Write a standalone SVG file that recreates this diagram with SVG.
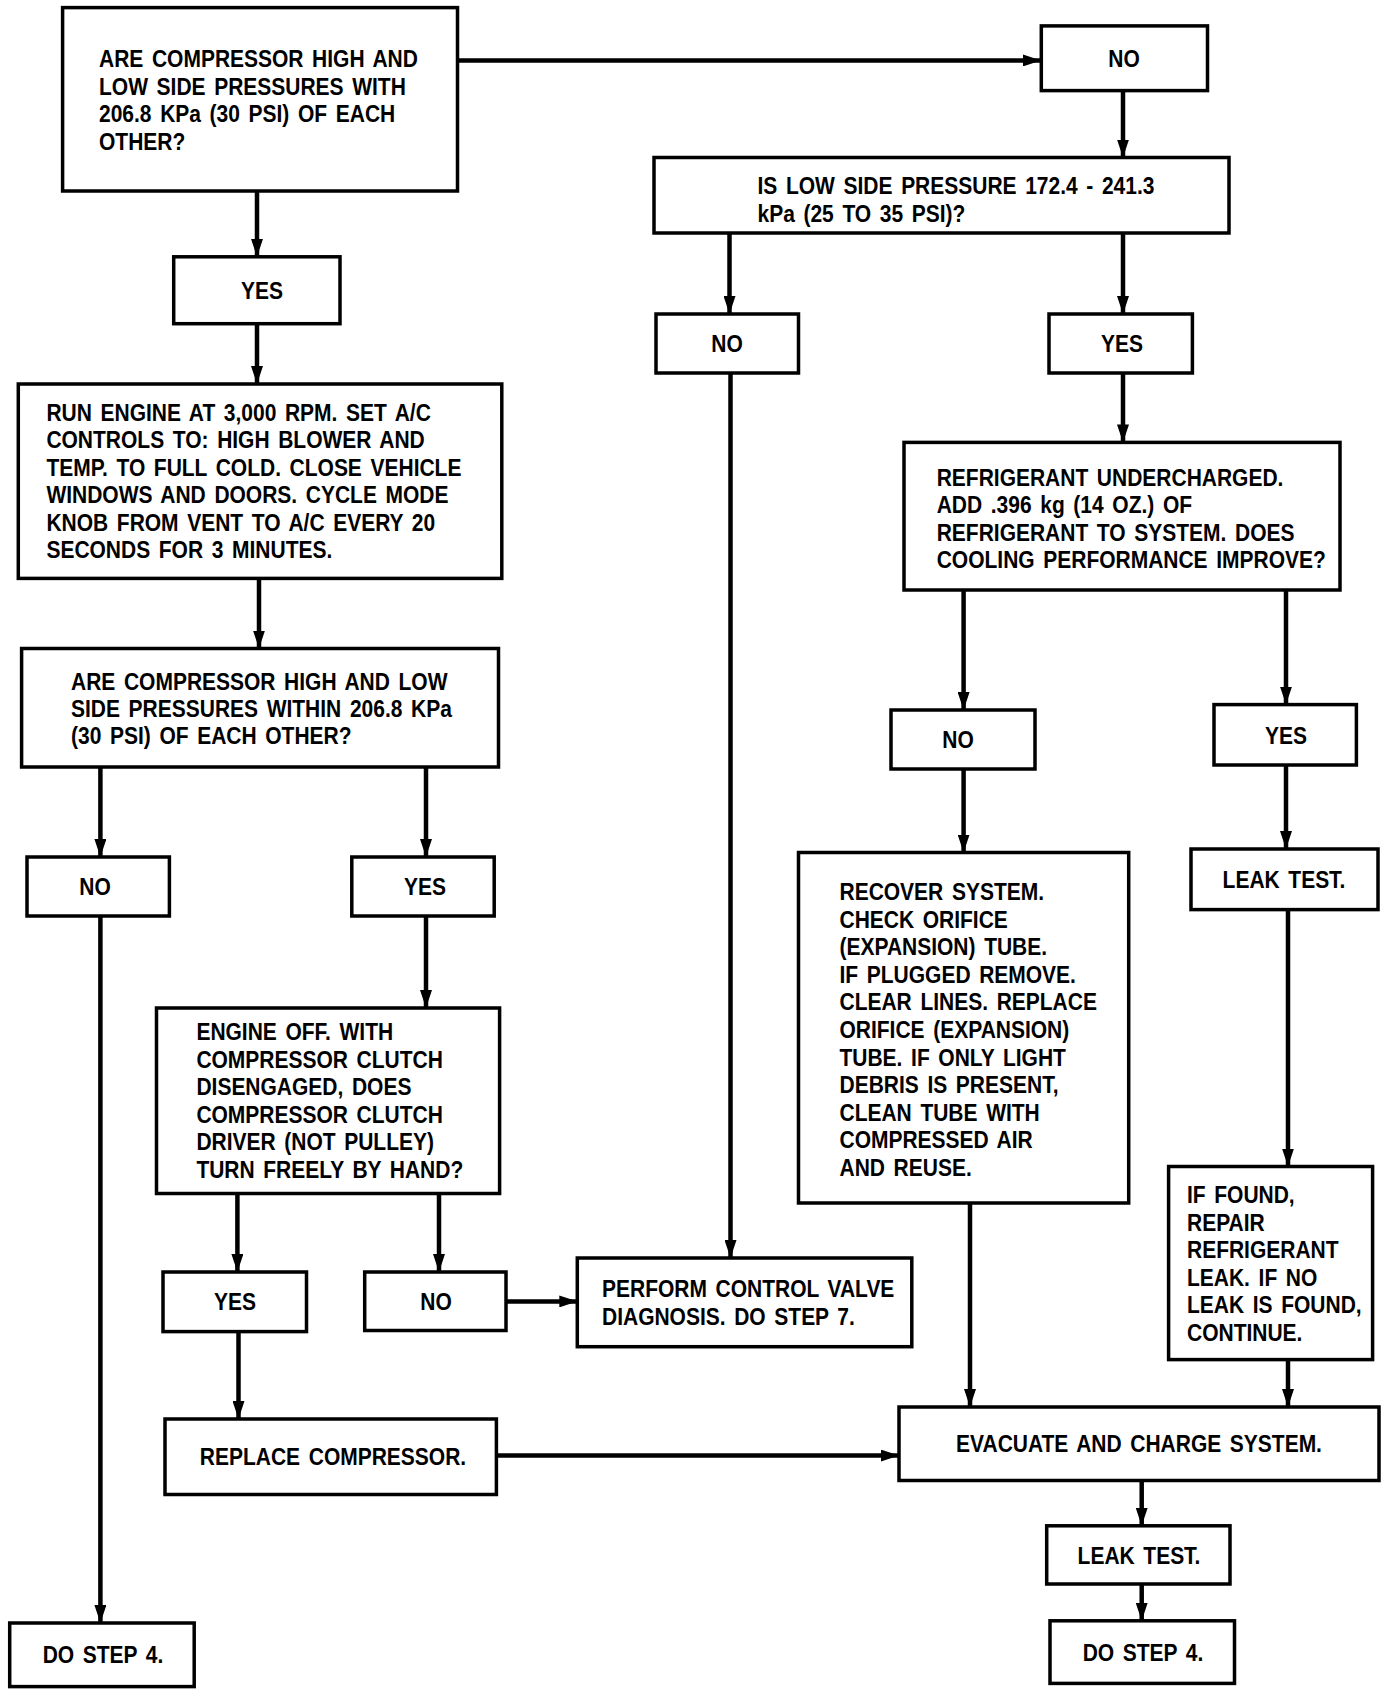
<svg xmlns="http://www.w3.org/2000/svg" width="1392" height="1690" viewBox="0 0 1392 1690">
<style>
.box{fill:#fff;stroke:#000;stroke-width:3.5}
.t{font-family:"Liberation Sans",Arial,sans-serif;font-weight:bold;font-size:24px;fill:#000;word-spacing:3.2px}
.c{text-anchor:middle}
.ln{fill:none;stroke:#000;stroke-width:4.5;marker-end:url(#ah)}
</style>
<defs>
<marker id="ah" viewBox="0 0 18 12" refX="18" refY="6" markerWidth="18" markerHeight="12" markerUnits="userSpaceOnUse" orient="auto">
<path d="M0,0 L18,6 L0,12 z" fill="#000"/>
</marker>
</defs>
<rect width="1392" height="1690" fill="#fff"/>

<g id="connectors">
<line class="ln" x1="457.5" y1="60.4" x2="1041" y2="60.4"/>
<line class="ln" x1="1123" y1="90.6" x2="1123" y2="157.5"/>
<line class="ln" x1="729.5" y1="233" x2="729.5" y2="314"/>
<line class="ln" x1="1123" y1="233" x2="1123" y2="314"/>
<line class="ln" x1="1123" y1="373" x2="1123" y2="442.4"/>
<line class="ln" x1="963.6" y1="590" x2="963.6" y2="710"/>
<line class="ln" x1="1286" y1="590" x2="1286" y2="704.6"/>
<line class="ln" x1="963.6" y1="769" x2="963.6" y2="852.5"/>
<line class="ln" x1="1286" y1="765" x2="1286" y2="849"/>
<line class="ln" x1="1288" y1="909.6" x2="1288" y2="1166.5"/>
<line class="ln" x1="257" y1="191" x2="257" y2="256.8"/>
<line class="ln" x1="257" y1="323.7" x2="257" y2="384"/>
<line class="ln" x1="259" y1="578.4" x2="259" y2="648.5"/>
<line class="ln" x1="100.4" y1="767" x2="100.4" y2="857"/>
<line class="ln" x1="426" y1="767" x2="426" y2="857"/>
<line class="ln" x1="426" y1="916" x2="426" y2="1008"/>
<line class="ln" x1="237.4" y1="1193.5" x2="237.4" y2="1272"/>
<line class="ln" x1="439" y1="1193.5" x2="439" y2="1272"/>
<line class="ln" x1="506" y1="1301.4" x2="577.3" y2="1301.4"/>
<line class="ln" x1="730.5" y1="373" x2="730.5" y2="1258"/>
<line class="ln" x1="238.5" y1="1331.6" x2="238.5" y2="1419"/>
<line class="ln" x1="496.4" y1="1455.6" x2="899" y2="1455.6"/>
<line class="ln" x1="970" y1="1203" x2="970" y2="1407"/>
<line class="ln" x1="1288" y1="1359.6" x2="1288" y2="1407"/>
<line class="ln" x1="1141.7" y1="1480.5" x2="1141.7" y2="1525.8"/>
<line class="ln" x1="1141.7" y1="1584" x2="1141.7" y2="1620.8"/>
<line class="ln" x1="100.4" y1="916" x2="100.4" y2="1623"/>
</g>

<g id="q1">
<rect class="box" x="62.6" y="7.6" width="394.9" height="183.4"/>
<text class="t" transform="translate(99,67) scale(0.875,1)"><tspan x="0">ARE COMPRESSOR HIGH AND</tspan><tspan x="0" dy="27.6">LOW SIDE PRESSURES WITH</tspan><tspan x="0" dy="27.6">206.8 KPa (30 PSI) OF EACH</tspan><tspan x="0" dy="27.6">OTHER?</tspan></text>
</g>

<g id="no1">
<rect class="box" x="1041.3" y="25.9" width="166.2" height="64.7"/>
<text class="t c" transform="translate(1124,67) scale(0.875,1)">NO</text>
</g>

<g id="q2">
<rect class="box" x="654" y="157.5" width="575" height="75.5"/>
<text class="t" transform="translate(757.5,194) scale(0.875,1)"><tspan x="0">IS LOW SIDE PRESSURE 172.4 - 241.3</tspan><tspan x="0" dy="28">kPa (25 TO 35 PSI)?</tspan></text>
</g>

<g id="no2">
<rect class="box" x="656" y="314" width="142.5" height="59"/>
<text class="t c" transform="translate(727,352) scale(0.875,1)">NO</text>
</g>

<g id="yes2">
<rect class="box" x="1049" y="314" width="143.4" height="59"/>
<text class="t c" transform="translate(1122,352) scale(0.875,1)">YES</text>
</g>

<g id="q3">
<rect class="box" x="904" y="442.4" width="436" height="147.6"/>
<text class="t" transform="translate(936.7,485.6) scale(0.875,1)"><tspan x="0">REFRIGERANT UNDERCHARGED.</tspan><tspan x="0" dy="27.6">ADD .396 kg (14 OZ.) OF</tspan><tspan x="0" dy="27.6">REFRIGERANT TO SYSTEM. DOES</tspan><tspan x="0" dy="27.6">COOLING PERFORMANCE IMPROVE?</tspan></text>
</g>

<g id="no3">
<rect class="box" x="891" y="710" width="144" height="59"/>
<text class="t c" transform="translate(958,748) scale(0.875,1)">NO</text>
</g>

<g id="yes3">
<rect class="box" x="1214" y="704.6" width="142.4" height="60.4"/>
<text class="t c" transform="translate(1286,744) scale(0.875,1)">YES</text>
</g>

<g id="recover">
<rect class="box" x="798.5" y="852.5" width="330.2" height="350.5"/>
<text class="t" transform="translate(839.5,900) scale(0.875,1)"><tspan x="0">RECOVER SYSTEM.</tspan><tspan x="0" dy="27.6">CHECK ORIFICE</tspan><tspan x="0" dy="27.6">(EXPANSION) TUBE.</tspan><tspan x="0" dy="27.6">IF PLUGGED REMOVE.</tspan><tspan x="0" dy="27.6">CLEAR LINES. REPLACE</tspan><tspan x="0" dy="27.6">ORIFICE (EXPANSION)</tspan><tspan x="0" dy="27.6">TUBE. IF ONLY LIGHT</tspan><tspan x="0" dy="27.6">DEBRIS IS PRESENT,</tspan><tspan x="0" dy="27.6">CLEAN TUBE WITH</tspan><tspan x="0" dy="27.6">COMPRESSED AIR</tspan><tspan x="0" dy="27.6">AND REUSE.</tspan></text>
</g>

<g id="leak1">
<rect class="box" x="1191" y="849" width="187" height="60.6"/>
<text class="t c" transform="translate(1284,888) scale(0.875,1)">LEAK TEST.</text>
</g>

<g id="iffound">
<rect class="box" x="1168.6" y="1166.5" width="204" height="193.1"/>
<text class="t" transform="translate(1187,1203) scale(0.875,1)"><tspan x="0">IF FOUND,</tspan><tspan x="0" dy="27.6">REPAIR</tspan><tspan x="0" dy="27.6">REFRIGERANT</tspan><tspan x="0" dy="27.6">LEAK. IF NO</tspan><tspan x="0" dy="27.6">LEAK IS FOUND,</tspan><tspan x="0" dy="27.6">CONTINUE.</tspan></text>
</g>

<g id="yes1">
<rect class="box" x="173.7" y="256.8" width="166.3" height="66.9"/>
<text class="t c" transform="translate(262,299) scale(0.875,1)">YES</text>
</g>

<g id="run">
<rect class="box" x="18.3" y="384" width="483.5" height="194.4"/>
<text class="t" transform="translate(46.4,421) scale(0.875,1)"><tspan x="0">RUN ENGINE AT 3,000 RPM. SET A/C</tspan><tspan x="0" dy="27.4">CONTROLS TO: HIGH BLOWER AND</tspan><tspan x="0" dy="27.4">TEMP. TO FULL COLD. CLOSE VEHICLE</tspan><tspan x="0" dy="27.4">WINDOWS AND DOORS. CYCLE MODE</tspan><tspan x="0" dy="27.4">KNOB FROM VENT TO A/C EVERY 20</tspan><tspan x="0" dy="27.4">SECONDS FOR 3 MINUTES.</tspan></text>
</g>

<g id="q4">
<rect class="box" x="21.6" y="648.5" width="476.9" height="118.5"/>
<text class="t" transform="translate(71,689.5) scale(0.875,1)"><tspan x="0">ARE COMPRESSOR HIGH AND LOW</tspan><tspan x="0" dy="27.5">SIDE PRESSURES WITHIN 206.8 KPa</tspan><tspan x="0" dy="27.5">(30 PSI) OF EACH OTHER?</tspan></text>
</g>

<g id="no4">
<rect class="box" x="27" y="857" width="142.4" height="59"/>
<text class="t c" transform="translate(95,895) scale(0.875,1)">NO</text>
</g>

<g id="yes4">
<rect class="box" x="351.8" y="857" width="142.4" height="59"/>
<text class="t c" transform="translate(425,895) scale(0.875,1)">YES</text>
</g>

<g id="q5">
<rect class="box" x="156.5" y="1008" width="343.1" height="185.5"/>
<text class="t" transform="translate(196.4,1040) scale(0.875,1)"><tspan x="0">ENGINE OFF. WITH</tspan><tspan x="0" dy="27.6">COMPRESSOR CLUTCH</tspan><tspan x="0" dy="27.6">DISENGAGED, DOES</tspan><tspan x="0" dy="27.6">COMPRESSOR CLUTCH</tspan><tspan x="0" dy="27.6">DRIVER (NOT PULLEY)</tspan><tspan x="0" dy="27.6">TURN FREELY BY HAND?</tspan></text>
</g>

<g id="yes5">
<rect class="box" x="163" y="1272" width="143.5" height="59.6"/>
<text class="t c" transform="translate(235,1310) scale(0.875,1)">YES</text>
</g>

<g id="no5">
<rect class="box" x="364.7" y="1272" width="141.3" height="58.5"/>
<text class="t c" transform="translate(436,1310) scale(0.875,1)">NO</text>
</g>

<g id="perform">
<rect class="box" x="577.3" y="1258" width="334.5" height="88.7"/>
<text class="t" transform="translate(602,1297) scale(0.875,1)"><tspan x="0">PERFORM CONTROL VALVE</tspan><tspan x="0" dy="28">DIAGNOSIS. DO STEP 7.</tspan></text>
</g>

<g id="replace">
<rect class="box" x="165" y="1419" width="331.4" height="75.5"/>
<text class="t c" transform="translate(333,1465) scale(0.875,1)">REPLACE COMPRESSOR.</text>
</g>

<g id="evacuate">
<rect class="box" x="899" y="1407" width="480" height="73.5"/>
<text class="t c" transform="translate(1139,1452) scale(0.875,1)">EVACUATE AND CHARGE SYSTEM.</text>
</g>

<g id="leak2">
<rect class="box" x="1046.7" y="1525.8" width="183.3" height="58.2"/>
<text class="t c" transform="translate(1139,1563.5) scale(0.875,1)">LEAK TEST.</text>
</g>

<g id="step4r">
<rect class="box" x="1050" y="1620.8" width="184.5" height="62.6"/>
<text class="t c" transform="translate(1143,1661) scale(0.875,1)">DO STEP 4.</text>
</g>

<g id="step4l">
<rect class="box" x="9.7" y="1623" width="184.5" height="63.6"/>
<text class="t c" transform="translate(103,1663) scale(0.875,1)">DO STEP 4.</text>
</g>
</svg>
